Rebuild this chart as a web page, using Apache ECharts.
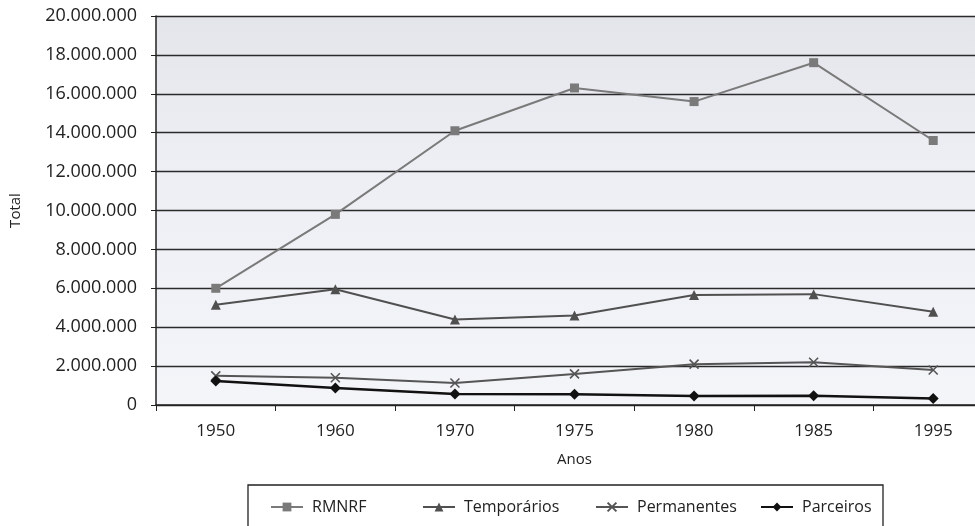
<!DOCTYPE html>
<html>
<head>
<meta charset="utf-8">
<script src="https://cdn.jsdelivr.net/npm/echarts@6/dist/echarts.min.js"></script>
<style>
  html, body { margin: 0; padding: 0; background: #fff; overflow: hidden; }
  #main { width: 993px; height: 526px; }
</style>
</head>
<body>
<div id="main"></div>
<script>
const anos = ['1950', '1960', '1970', '1975', '1980', '1985', '1995']
const rmnrf = [6000000, 9800000, 14100000, 16300000, 15600000, 17600000, 13600000]
const temporarios = [5150000, 5950000, 4400000, 4600000, 5650000, 5700000, 4800000]
const permanentes = [1500000, 1400000, 1130000, 1600000, 2100000, 2200000, 1800000]
const parceiros = [1230000, 870000, 570000, 550000, 460000, 480000, 330000]

const nomes = ['RMNRF', 'Temporários', 'Permanentes', 'Parceiros']
const legendLeft = [270, 422, 595, 760]

const font = 'Open Sans'

function fmt(v) {
  return String(v).replace(/\B(?=(\d{3})+(?!\d))/g, '.')
}

function serie(name, data, color, symbol, size, width) {
  return {
    name,
    type: 'line',
    data,
    symbol,
    symbolSize: size,
    showSymbol: true,
    lineStyle: { color, width },
    itemStyle: { color, borderColor: color, borderWidth: symbol.startsWith('path') ? 1.6 : 0 },
    emphasis: { disabled: true },
  }
}

const legends = nomes.map((n, i) => ({
  data: [n],
  left: legendLeft[i],
  top: 499,
  padding: 0,
  itemWidth: 32,
  itemHeight: 11,
  textStyle: { fontFamily: font, fontSize: 16, color: '#222', padding: [0, 0, 0, 4] },
}))

const chart = echarts.init(document.getElementById('main'))
chart.setOption({
  animation: false,
  grid: {
    left: 156, right: 0, top: 16, bottom: 121,
    show: true,
    borderWidth: 0,
    backgroundColor: {
      type: 'linear', x: 0, y: 0, x2: 0, y2: 1,
      colorStops: [
        { offset: 0, color: '#e4e5ea' },
        { offset: 0.35, color: '#eceef4' },
        { offset: 1, color: '#f4f5f9' },
      ],
    },
  },
  graphic: [{
    type: 'rect',
    shape: { x: 248, y: 485, width: 635, height: 60 },
    style: { fill: '#fff', stroke: '#222', lineWidth: 1.3 },
    z: -1,
  }],
  xAxis: {
    type: 'category',
    data: anos,
    boundaryGap: true,
    name: 'Anos',
    nameLocation: 'middle',
    nameGap: 47,
    nameTextStyle: { fontFamily: font, fontSize: 15, color: '#222' },
    axisLine: { lineStyle: { color: '#222', width: 1.5 } },
    axisTick: { show: true, length: 6, lineStyle: { color: '#222' } },
    axisLabel: { fontFamily: font, fontSize: 17, color: '#222', margin: 18 },
  },
  yAxis: {
    type: 'value',
    min: 0,
    max: 20000000,
    interval: 2000000,
    name: 'Total',
    nameLocation: 'middle',
    nameGap: 133,
    nameTextStyle: { fontFamily: font, fontSize: 15, color: '#222' },
    axisLine: { show: true, lineStyle: { color: '#222', width: 1.5 } },
    axisTick: { show: true, length: 5, lineStyle: { color: '#222' } },
    axisLabel: { fontFamily: font, fontSize: 18, color: '#222', margin: 19, formatter: fmt },
    splitLine: { lineStyle: { color: '#2a2a2a', width: 1.3 } },
  },
  legend: legends,
  series: [
    serie(nomes[0], rmnrf, '#7a7a7a', 'rect', 9, 2),
    serie(nomes[1], temporarios, '#505050', 'triangle', 10, 2),
    serie(nomes[2], permanentes, '#555555', 'path://M0,0L10,10M10,0L0,10', 9, 2),
    serie(nomes[3], parceiros, '#111111', 'diamond', 11, 2.5),
  ],
})
</script>
</body>
</html>
